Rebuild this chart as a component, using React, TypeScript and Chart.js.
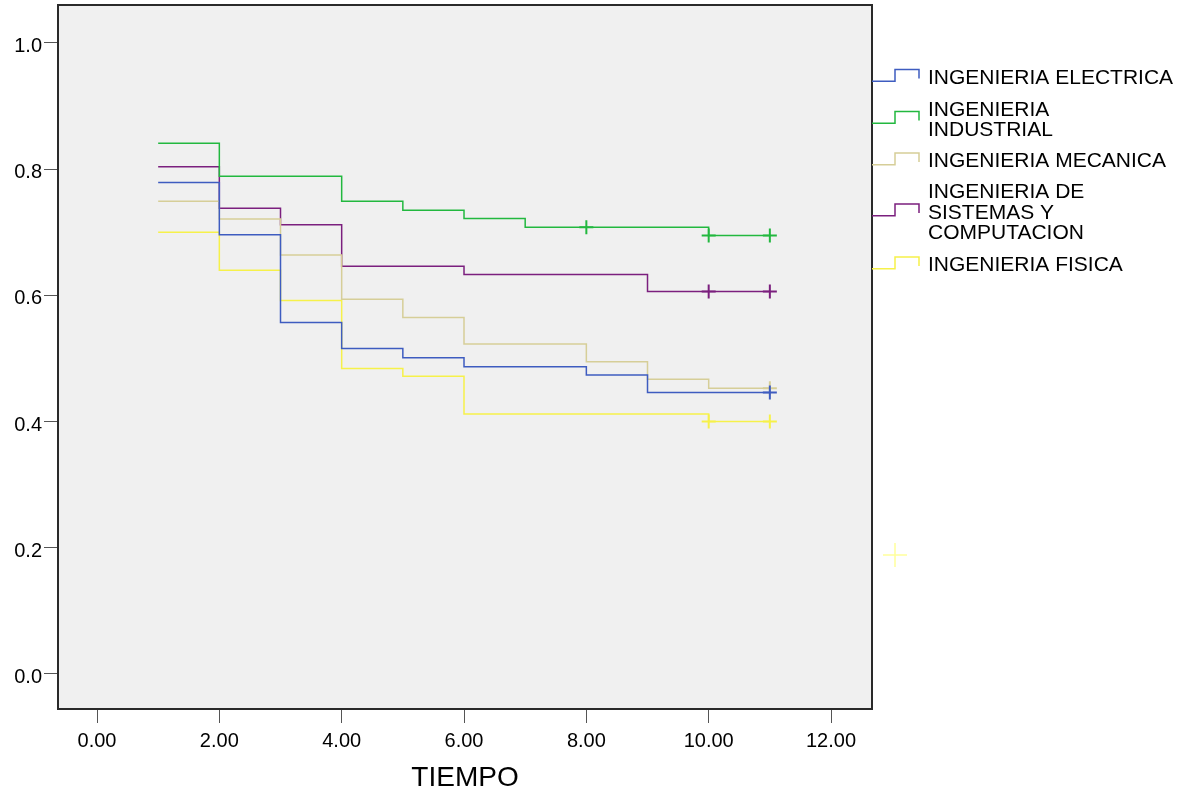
import React, { useEffect, useRef } from "react";
import { Chart, registerables } from "chart.js";

Chart.register(...registerables);

// ---- Data ----
const seriesNames = [
  "INGENIERIA ELECTRICA",
  "INGENIERIA INDUSTRIAL",
  "INGENIERIA MECANICA",
  "INGENIERIA DE SISTEMAS Y COMPUTACION",
  "INGENIERIA FISICA",
];
const legendLines = [
  ["INGENIERIA ELECTRICA"],
  ["INGENIERIA", "INDUSTRIAL"],
  ["INGENIERIA MECANICA"],
  ["INGENIERIA DE", "SISTEMAS Y", "COMPUTACION"],
  ["INGENIERIA FISICA"],
];

const timeElectrica = [1, 2, 3, 4, 5, 6, 8, 9, 11];
const survElectrica = [0.779, 0.696, 0.557, 0.516, 0.501, 0.487, 0.474, 0.446, 0.446];
const censorTimeElectrica = [11];
const censorSurvElectrica = [0.446];

const timeIndustrial = [1, 2, 4, 5, 6, 7, 10, 11];
const survIndustrial = [0.841, 0.789, 0.749, 0.735, 0.722, 0.708, 0.695, 0.695];
const censorTimeIndustrial = [8, 10, 11];
const censorSurvIndustrial = [0.708, 0.695, 0.695];

const timeMecanica = [1, 2, 3, 4, 5, 6, 8, 9, 10, 11];
const survMecanica = [0.749, 0.721, 0.664, 0.594, 0.565, 0.523, 0.495, 0.467, 0.453, 0.453];
const censorTimeMecanica = [11];
const censorSurvMecanica = [0.453];

const timeSistemas = [1, 2, 3, 4, 6, 9, 11];
const survSistemas = [0.804, 0.738, 0.712, 0.646, 0.633, 0.606, 0.606];
const censorTimeSistemas = [10, 11];
const censorSurvSistemas = [0.606, 0.606];

const timeFisica = [1, 2, 3, 4, 5, 6, 10, 11];
const survFisica = [0.7, 0.64, 0.592, 0.484, 0.472, 0.412, 0.4, 0.4];
const censorTimeFisica = [10, 11];
const censorSurvFisica = [0.4, 0.4];

const xTicks = [0, 2, 4, 6, 8, 10, 12];
const yTicks = [0, 0.2, 0.4, 0.6, 0.8, 1.0];
const xTitle = "TIEMPO";

// ---- Styles ----
const colors = ["#3E5CC0", "#22B83F", "#D6CE98", "#7B1F7E", "#F6F14A"];
const censorLegendColor = "#FFFF9C";
const FONT = "Arial, 'Liberation Sans', sans-serif";

const times = [timeElectrica, timeIndustrial, timeMecanica, timeSistemas, timeFisica];
const survs = [survElectrica, survIndustrial, survMecanica, survSistemas, survFisica];
const cTimes = [censorTimeElectrica, censorTimeIndustrial, censorTimeMecanica, censorTimeSistemas, censorTimeFisica];
const cSurvs = [censorSurvElectrica, censorSurvIndustrial, censorSurvMecanica, censorSurvSistemas, censorSurvFisica];

const zip = (xs: number[], ys: number[]) => xs.map((x, i) => ({ x, y: ys[i] }));

export default function App() {
  const ref = useRef<HTMLCanvasElement | null>(null);

  useEffect(() => {
    if (!ref.current) return;

    const bgPlugin = {
      id: "bgPlugin",
      beforeDraw(chart: any) {
        const { ctx, chartArea: a } = chart;
        ctx.save();
        ctx.fillStyle = "#ffffff";
        ctx.fillRect(0, 0, chart.width, chart.height);
        ctx.fillStyle = "#F0F0F0";
        ctx.fillRect(a.left, a.top, a.right - a.left, a.bottom - a.top);
        ctx.restore();
      },
      afterDraw(chart: any) {
        const { ctx, chartArea: a } = chart;
        ctx.save();
        ctx.strokeStyle = "#2a2a2a";
        ctx.lineWidth = 2;
        ctx.strokeRect(a.left, a.top, a.right - a.left, a.bottom - a.top);

        // custom legend
        const textX = 928;
        const firstLineY = [78.3, 110, 161.7, 192.3, 265.7];
        const lineStep = 20.5;
        ctx.font = `21px ${FONT}`;
        ctx.textBaseline = "middle";
        ctx.textAlign = "left";
        legendLines.forEach((lines, i) => {
          ctx.fillStyle = "#000";
          lines.forEach((t, j) => ctx.fillText(t, textX, firstLineY[i] + j * lineStep));
          const blockCenter = firstLineY[i] + ((lines.length - 1) * lineStep) / 2;
          const low = blockCenter + 3;
          const high = low - 11.7;
          ctx.strokeStyle = colors[i];
          ctx.lineWidth = 1.5;
          ctx.beginPath();
          ctx.moveTo(872, low);
          ctx.lineTo(895, low);
          ctx.lineTo(895, high);
          ctx.lineTo(919, high);
          ctx.lineTo(919, high + 9);
          ctx.stroke();
        });
        // censored marker legend symbol
        ctx.strokeStyle = censorLegendColor;
        ctx.lineWidth = 1.5;
        ctx.beginPath();
        ctx.moveTo(883, 555);
        ctx.lineTo(907, 555);
        ctx.moveTo(895, 543);
        ctx.lineTo(895, 567);
        ctx.stroke();
        ctx.restore();
      },
    };

    const datasets: any[] = [];
    seriesNames.forEach((name, i) => {
      datasets.push({
        type: "line",
        label: name,
        data: zip(times[i], survs[i]),
        borderColor: colors[i],
        backgroundColor: colors[i],
        borderWidth: 1.5,
        stepped: "before",
        pointRadius: 0,
        fill: false,
        order: i,
      });
    });
    seriesNames.forEach((name, i) => {
      datasets.push({
        type: "line",
        label: name + " censurado",
        data: zip(cTimes[i], cSurvs[i]),
        showLine: false,
        borderColor: colors[i],
        backgroundColor: colors[i],
        pointStyle: "cross",
        pointRadius: 7,
        pointBorderWidth: 2,
        pointBorderColor: colors[i],
      });
    });

    const chart = new Chart(ref.current, {
      type: "line",
      data: { datasets },
      options: {
        animation: false,
        responsive: false,
        devicePixelRatio: 1,
        layout: { autoPadding: false, padding: { left: 0, right: 317, top: 5, bottom: 0 } },
        plugins: { legend: { display: false }, tooltip: { enabled: false } },
        scales: {
          x: {
            type: "linear",
            min: -0.6376,
            max: 12.67,
            afterBuildTicks: (s: any) => {
              s.ticks = xTicks.map((v) => ({ value: v }));
            },
            afterFit: (s: any) => {
              s.height = 86;
              s.paddingLeft = 0;
              s.paddingRight = 0;
            },
            grid: { display: true, drawOnChartArea: false, drawTicks: true, tickLength: 14, color: "#555", lineWidth: 1 },
            border: { display: false },
            ticks: {
              font: { family: FONT, size: 20 },
              color: "#000",
              padding: 6,
              maxRotation: 0,
              callback: (v: any) => Number(v).toFixed(2),
            },
            title: {
              display: true,
              text: xTitle,
              font: { family: FONT, size: 28 },
              color: "#000",
              padding: { top: 0, bottom: 0 },
            },
          },
          y: {
            type: "linear",
            min: -0.0555,
            max: 1.0602,
            afterBuildTicks: (s: any) => {
              s.ticks = yTicks.map((v) => ({ value: v }));
            },
            afterFit: (s: any) => {
              s.width = 58;
              s.paddingTop = 0;
              s.paddingBottom = 0;
            },
            grid: { display: true, drawOnChartArea: false, drawTicks: true, tickLength: 14, color: "#555", lineWidth: 1 },
            border: { display: false },
            ticks: {
              font: { family: FONT, size: 20, lineHeight: 0.4 },
              color: "#000",
              padding: 2,
              labelOffset: 3.5,
              callback: (v: any) => Number(v).toFixed(1),
            },
          },
        },
      },
      plugins: [bgPlugin],
    });

    return () => chart.destroy();
  }, []);

  return (
    <div style={{ position: "fixed", left: 0, top: 0, width: 1189, height: 795, background: "#fff" }}>
      <canvas ref={ref} width={1189} height={795} style={{ width: 1189, height: 795, display: "block" }} />
    </div>
  );
}
